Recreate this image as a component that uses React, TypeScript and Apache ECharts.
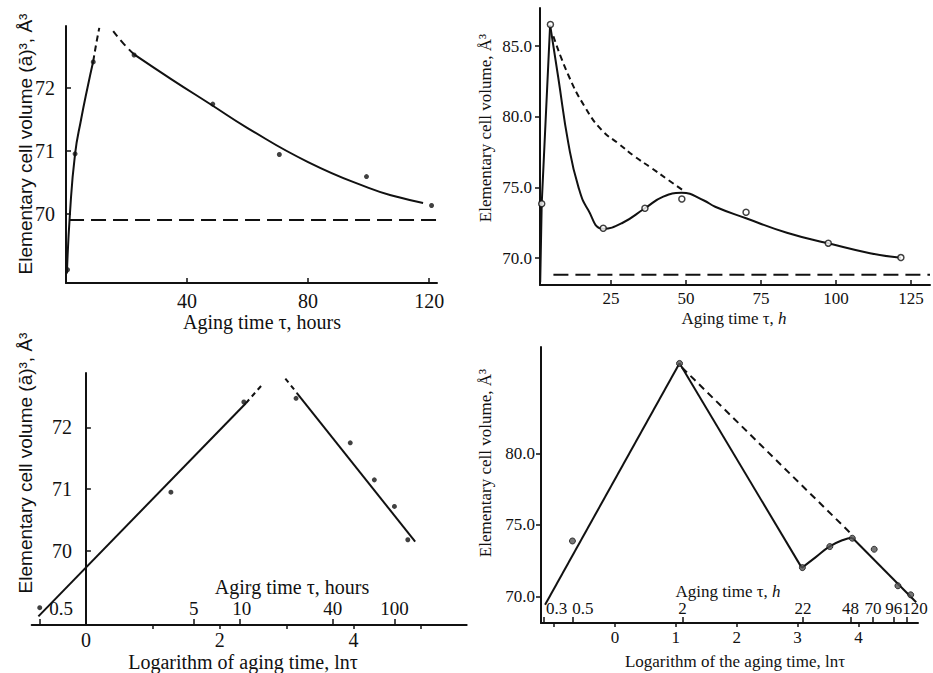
import React, { useEffect, useRef } from "react";
import * as echarts from "echarts";

// ---------- Panel A: volume vs aging time (hours) ----------
const aPoints = [[0.5, 69.11], [3, 70.95], [9, 72.41], [22.5, 72.52], [48.5, 71.74], [70.5, 70.94], [99.3, 70.59], [120.8, 70.13]];
const aRiseSolid = [[0.3, 69.05], [1.3, 70.0], [3, 70.95], [5, 71.5], [7.1, 72.0], [9, 72.42]];
const aRiseDash = [[9, 72.42], [10, 72.7], [11, 72.95]];
const aFallDash = [[15.6, 72.9], [19, 72.7], [22.5, 72.53]];
const aFallSolid = [[22.5, 72.53], [35, 72.13], [48, 71.73], [60, 71.36], [80, 70.82], [100, 70.41], [110, 70.26], [118, 70.17]];
const aLimit = [[1, 69.9], [122.6, 69.9]];
const aXTicks = [40, 80, 120];
const aYTicks = [70, 71, 72];

// ---------- Panel B: volume vs aging time (h) ----------
const bPoints = [[1.9, 73.85], [4.8, 86.53], [22.4, 72.12], [36.3, 73.53], [48.6, 74.19], [70, 73.25], [97.4, 71.06], [121.6, 70.04]];
const bRise = [[1.4, 68.3], [1.9, 73.85], [4.7, 86.5]];
const bFall = [[4.7, 86.5], [7.4, 82.8], [10.8, 78.1], [14.1, 75.06], [17.4, 73.4], [22.4, 72.08], [28.6, 72.47], [36.3, 73.53], [42.4, 74.35], [48.5, 74.62], [55.8, 74.1], [59.7, 73.64], [70, 72.82], [83.6, 71.8], [97.4, 71.05], [111.3, 70.35], [121.6, 70.02]];
const bDash = [[5.8, 85.7], [10.8, 82.94], [16.3, 80.7], [21.9, 79.06], [27.4, 78.12], [33, 77.18], [38.6, 76.36], [44.1, 75.53], [49.7, 74.7]];
const bLimit = [[5.8, 68.82], [131.3, 68.82]];
const bXTicks = [25, 50, 75, 100, 125];
const bYTicks = [70, 75, 80, 85];

// ---------- Panel C: volume vs ln(tau) ----------
const cPoints = [[-0.69, 69.08], [1.27, 70.95], [2.36, 72.41], [3.14, 72.47], [3.95, 71.75], [4.31, 71.15], [4.61, 70.72], [4.81, 70.18]];
const cRiseSolid = [[-0.71, 68.94], [2.39, 72.39]];
const cRiseDash = [[2.39, 72.39], [2.65, 72.71]];
const cFallDash = [[2.98, 72.79], [3.15, 72.56]];
const cFallSolid = [[3.15, 72.56], [4.92, 70.15]];
const cXTicks = [1, 2, 3, 4, 5];
const cXLabels = [0, 2, 4];
const cYTicks = [70, 71, 72];
const cTauTicks = [-0.69, 1.61, 2.3, 3.69, 4.61];
const cTauLabelPos = [-0.37, 1.61, 2.33, 3.69, 4.61];
const cTauLabels = ["0.5", "5", "10", "40", "100"];

// ---------- Panel D: volume vs ln(tau) ----------
const dPoints = [[-0.7, 73.88], [1.06, 86.28], [3.08, 72.02], [3.53, 73.49], [3.9, 74.07], [4.26, 73.3], [4.65, 70.75], [4.86, 70.12]];
const dRise = [[-1.15, 69.42], [1.06, 86.3]];
const dFall = [[1.06, 86.3], [3.07, 72.0]];
const dBump = [[3.07, 72.0], [3.3, 72.75], [3.53, 73.5], [3.75, 73.95], [3.9, 74.1]];
const dTail = [[3.9, 74.1], [4.95, 69.6]];
const dDash = [[1.1, 86.0], [3.9, 74.3]];
const dXTicks = [-1, 0, 1, 2, 3, 4];
const dXLabels = [0, 1, 2, 3, 4];
const dYTicks = [70, 75, 80];
const dTauTicks = [-1.18, -0.69, 1.11, 3.08, 3.88, 4.23, 4.58, 4.79];
const dTauLabelPos = [-0.96, -0.53, 1.11, 3.09, 3.87, 4.24, 4.58, 4.93];
const dTauLabels = ["0.3", "0.5", "2", "22", "48", "70", "96", "120"];

const SERIF = '"Liberation Serif", "Times New Roman", serif';
const SANS = '"Liberation Sans", Arial, sans-serif';
const INK = "#111";

function pick(positions: number[], labels: string[]) {
  return (v: number) => {
    let best = 0;
    for (let i = 1; i < positions.length; i++) {
      if (Math.abs(positions[i] - v) < Math.abs(positions[best] - v)) best = i;
    }
    return labels[best];
  };
}

function xAxis(grid: number, min: number, max: number, ticks: number[], labels: number[], opts: any) {
  return {
    type: "value", gridIndex: grid, min, max, position: "bottom",
    axisLine: { show: true, onZero: false, lineStyle: { color: INK, width: 2 } },
    axisTick: { show: true, inside: opts.tickInside, length: opts.tickLen ?? 5, customValues: ticks, lineStyle: { color: INK, width: 1.5 } },
    axisLabel: { customValues: labels, color: INK, fontFamily: SERIF, fontSize: opts.fontSize, margin: opts.margin, formatter: opts.formatter },
    splitLine: { show: false },
  };
}

function tauAxis(grid: number, min: number, max: number, ticks: number[], pos: number[], labels: string[], fontSize: number, margin: number) {
  return {
    type: "value", gridIndex: grid, min, max, position: "bottom",
    axisLine: { show: false, onZero: false },
    axisTick: { show: true, inside: true, length: 6, customValues: ticks, lineStyle: { color: INK, width: 1.5 } },
    axisLabel: { inside: true, customValues: pos, color: INK, fontFamily: SERIF, fontSize, margin, formatter: pick(pos, labels) },
    splitLine: { show: false },
  };
}

function yAxis(grid: number, min: number, max: number, ticks: number[], opts: any) {
  return {
    type: "value", gridIndex: grid, min, max, offset: opts.offset ?? 0,
    axisLine: { show: true, onZero: false, lineStyle: { color: INK, width: 2 } },
    axisTick: { show: true, inside: opts.tickInside, length: 5, customValues: ticks, lineStyle: { color: INK, width: 1.5 } },
    axisLabel: { customValues: ticks, color: INK, fontFamily: SERIF, fontSize: opts.fontSize, margin: opts.margin, formatter: opts.formatter },
    splitLine: { show: false },
  };
}

function line(data: number[][], xi: number, yi: number, dashed: any, smooth = false, width = 2) {
  return {
    type: "line", data, xAxisIndex: xi, yAxisIndex: yi, smooth, symbol: "none", showSymbol: false, silent: true,
    lineStyle: { color: INK, width, type: dashed || "solid" }, z: 2,
  };
}

function dots(data: number[][], xi: number, yi: number, style: any, size: number) {
  return { type: "scatter", data, xAxisIndex: xi, yAxisIndex: yi, symbol: "circle", symbolSize: size, itemStyle: style, z: 3, silent: true };
}

function label(text: string, x: number, y: number, font: string, size: number, rotate = false, rich?: any) {
  return {
    type: "text", x, y, rotation: rotate ? Math.PI / 2 : 0, silent: true,
    style: { text, fill: INK, fontFamily: font, fontSize: size, align: "center", verticalAlign: "middle", rich },
  };
}

export default function App() {
  const ref = useRef<HTMLDivElement>(null);
  useEffect(() => {
    if (!ref.current) return;
    const chart = echarts.init(ref.current, undefined, { renderer: "svg" });
    const fixed1 = (v: number) => v.toFixed(1);
    const italic = { i: { fontStyle: "italic", fontFamily: SERIF, fontSize: 17 } };
    // panel C: y axis sits at ln(tau) = 0, i.e. (0 - min) * width / range to the right of the grid's edge
    const cMin = -0.81, cMax = 5.69, cWidth = 435;
    const cOffset = -((0 - cMin) * cWidth) / (cMax - cMin);
    chart.setOption({
      animation: false,
      backgroundColor: "#fff",
      grid: [
        { left: 66, top: 26, width: 371, height: 257 },
        { left: 540, top: 8, width: 390, height: 277 },
        { left: 31.7, top: 373, width: cWidth, height: 252 },
        { left: 541, top: 347, width: 377, height: 276 },
      ],
      xAxis: [
        xAxis(0, 0, 122.6, aXTicks, aXTicks, { tickInside: true, fontSize: 20, margin: 8 }),
        xAxis(1, 1.33, 131.3, bXTicks, bXTicks, { tickInside: true, fontSize: 17, margin: 5 }),
        xAxis(2, cMin, cMax, cXTicks, cXLabels, { tickInside: false, tickLen: 4, fontSize: 20, margin: 5 }),
        tauAxis(2, cMin, cMax, cTauTicks, cTauLabelPos, cTauLabels, 19, 7),
        xAxis(3, -1.217, 4.98, dXTicks, dXLabels, { tickInside: false, tickLen: 4, fontSize: 17, margin: 6 }),
        tauAxis(3, -1.217, 4.98, dTauTicks, dTauLabelPos, dTauLabels, 17, 6),
      ],
      yAxis: [
        yAxis(0, 68.9, 72.98, aYTicks, { tickInside: true, fontSize: 20, margin: 11 }),
        yAxis(1, 68.1, 87.7, bYTicks, { tickInside: false, fontSize: 17, margin: 8, formatter: fixed1 }),
        yAxis(2, 68.8, 72.88, cYTicks, { tickInside: true, fontSize: 20, margin: 14, offset: cOffset }),
        yAxis(3, 68.15, 87.43, dYTicks, { tickInside: false, fontSize: 17, margin: 6, formatter: fixed1 }),
      ],
      series: [
        // Panel A
        line(aRiseSolid, 0, 0, null, true),
        line(aRiseDash, 0, 0, [6, 4], true),
        line(aFallDash, 0, 0, [7, 5], true),
        line(aFallSolid, 0, 0, null, true),
        line(aLimit, 0, 0, [15, 7]),
        dots(aPoints, 0, 0, { color: INK }, 5),
        // Panel B
        line(bRise, 1, 1, null),
        line(bFall, 1, 1, null, true),
        line(bDash, 1, 1, [6, 4], true),
        line(bLimit, 1, 1, [15, 7]),
        dots(bPoints, 1, 1, { color: "#fff", borderColor: INK, borderWidth: 1.5 }, 6),
        // Panel C
        line(cRiseSolid, 2, 2, null),
        line(cRiseDash, 2, 2, [5, 4]),
        line(cFallDash, 2, 2, [5, 4]),
        line(cFallSolid, 2, 2, null),
        dots(cPoints, 2, 2, { color: INK }, 5),
        // Panel D
        line(dRise, 4, 3, null),
        line(dFall, 4, 3, null),
        line(dBump, 4, 3, null, true),
        line(dTail, 4, 3, null),
        line(dDash, 4, 3, [7, 5]),
        dots(dPoints, 4, 3, { color: "#555", borderColor: INK, borderWidth: 1 }, 6),
      ],
      graphic: [
        label("Elementary cell volume (ā)³, Å³", 25, 144, SANS, 19, true),
        label("Aging time τ, hours", 262, 322, SERIF, 20),
        label("Elementary cell volume, Å³", 485, 128, SERIF, 17, true),
        label("Aging time τ, {i|h}", 734, 318, SERIF, 17, false, italic),
        label("Elementary cell volume (ā)³, Å³", 25, 463, SANS, 19, true),
        label("Agirg time τ, hours", 292, 587, SERIF, 20),
        label("Logarithm of aging time, lnτ", 243, 662, SERIF, 20),
        label("Elementary cell volume, Å³", 485, 463, SERIF, 17, true),
        label("Aging time τ, {i|h}", 728, 591, SERIF, 17, false, italic),
        label("Logarithm of the aging time, lnτ", 735, 661, SERIF, 17),
      ],
    });
    return () => chart.dispose();
  }, []);
  return <div ref={ref} style={{ position: "fixed", left: 0, top: 0, width: 933, height: 673 }} />;
}
